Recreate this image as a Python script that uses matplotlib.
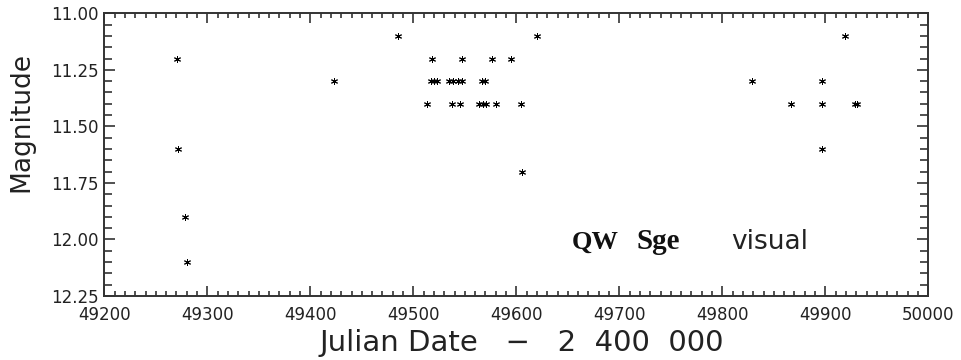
import matplotlib
matplotlib.use("Agg")
from matplotlib import pyplot as plt
from matplotlib.ticker import MultipleLocator, FormatStrFormatter

# visual estimates of QW Sge (JD - 2400000, magnitude)
jd = [
    49270.3, 49271.8, 49278.6, 49280.0,
    49423.0, 49485.4,
    49518.4, 49547.0, 49576.7, 49594.9,
    49516.9, 49520.1, 49523.3, 49534.7, 49538.8, 49543.1, 49547.6,
    49566.4, 49569.9,
    49513.0, 49537.3, 49545.3, 49563.8, 49567.4, 49570.3, 49580.3,
    49604.6,
    49605.2, 49619.8,
    49828.5, 49866.7,
    49897.0, 49897.0, 49897.0,
    49919.1, 49929.2, 49930.6,
]
mag = [
    11.2, 11.6, 11.9, 12.1,
    11.3, 11.1,
    11.2, 11.2, 11.2, 11.2,
    11.3, 11.3, 11.3, 11.3, 11.3, 11.3, 11.3,
    11.3, 11.3,
    11.4, 11.4, 11.4, 11.4, 11.4, 11.4, 11.4,
    11.4,
    11.7, 11.1,
    11.3, 11.4,
    11.3, 11.4, 11.6,
    11.1, 11.4, 11.4,
]

W, H = 961, 360
fig = plt.figure(figsize=(W / 100, H / 100), dpi=100)
ax = fig.add_axes([104.3 / W, 1 - 296 / H, 824 / W, 282.7 / H])

ax.plot(jd, mag, linestyle="none", marker=(6, 2, 0), markersize=5,
        markeredgewidth=0.7, color="black")

ax.set_xlim(49200, 50000)
ax.set_ylim(12.25, 11.0)
ax.xaxis.set_major_locator(MultipleLocator(100))
ax.xaxis.set_minor_locator(MultipleLocator(10))
ax.yaxis.set_major_locator(MultipleLocator(0.25))
ax.yaxis.set_minor_locator(MultipleLocator(0.05))
ax.yaxis.set_major_formatter(FormatStrFormatter("%.2f"))

ax.tick_params(axis="both", which="both", direction="in",
               top=True, right=True, color="#333333", width=1.2,
               labelsize=12, labelcolor="#222222")
ax.tick_params(axis="x", which="major", length=7, pad=7)
ax.tick_params(axis="x", which="minor", length=3.6)
ax.tick_params(axis="y", which="major", length=8, pad=4)
ax.tick_params(axis="y", which="minor", length=6)
for s in ax.spines.values():
    s.set_linewidth(1.4)
    s.set_color("#333333")

fig.text(522 / W, 1 - 343 / H, "Julian Date   \u2212   2  400  000",
         ha="center", va="center", fontsize=21, color="#222222")
fig.text(21 / W, 1 - 122 / H, "Magnitude", rotation=90,
         ha="center", va="center", fontsize=19, color="#222222")

fig.text(572 / W, 1 - 249 / H, "QW", ha="left", va="baseline",
         fontsize=19, fontweight="bold", family="Liberation Serif",
         color="#111111")
fig.text(636 / W, 1 - 249 / H, "Sge", ha="left", va="baseline",
         fontsize=21, fontweight="bold", family="Liberation Serif",
         color="#111111")
fig.text(808 / W, 1 - 249 / H, "visual", ha="right", va="baseline",
         fontsize=19, color="#222222")

fig.savefig("out.png", dpi=100)
